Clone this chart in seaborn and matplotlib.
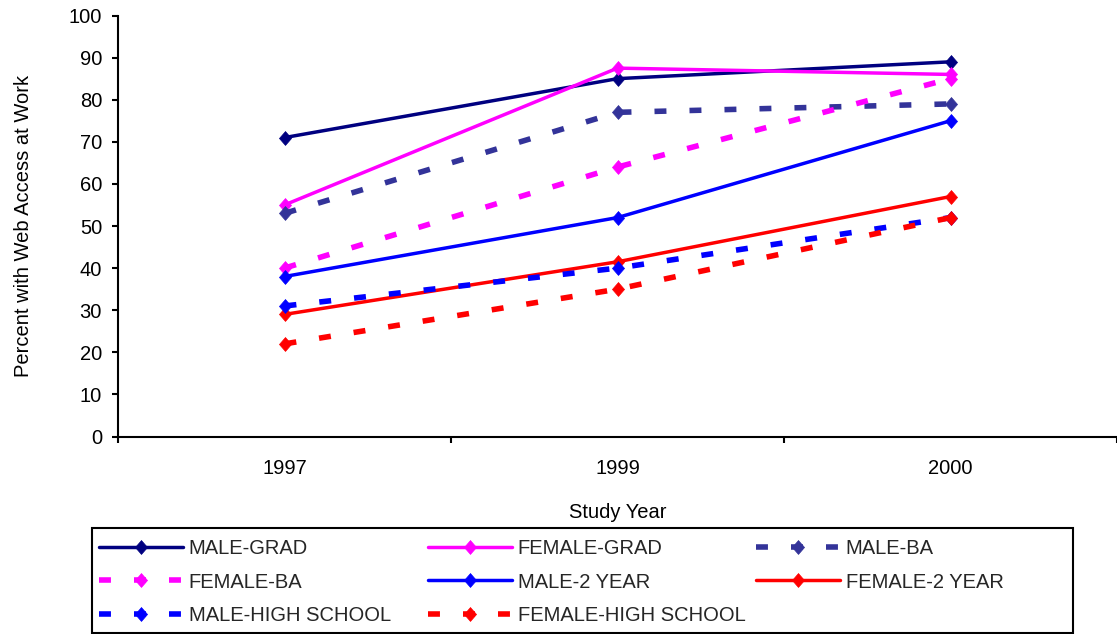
import matplotlib
matplotlib.use("Agg")
import matplotlib.pyplot as plt
from matplotlib.patches import Rectangle
from matplotlib.ticker import FixedLocator
import seaborn as sns
import numpy as np

# ---- data -------------------------------------------------------------
years = ["1997", "1999", "2000"]

series_names = [
    "MALE-GRAD", "FEMALE-GRAD", "MALE-BA", "FEMALE-BA",
    "MALE-2 YEAR", "FEMALE-2 YEAR", "MALE-HIGH SCHOOL", "FEMALE-HIGH SCHOOL",
]

male_grad = [71, 85, 89]
female_grad = [55, 87.5, 86]
male_ba = [53, 77, 79]
female_ba = [40, 64, 85]
male_2yr = [38, 52, 75]
female_2yr = [29, 41.5, 57]
male_hs = [31, 40, 52]
female_hs = [22, 35, 52]

series_values = [male_grad, female_grad, male_ba, female_ba,
                 male_2yr, female_2yr, male_hs, female_hs]

series_colors = ["#000080", "#FF00FF", "#333399", "#FF00FF",
                 "#0000FF", "#FF0000", "#0000FF", "#FF0000"]
series_dashed = [False, False, True, True, False, False, True, True]

y_ticks = [0, 10, 20, 30, 40, 50, 60, 70, 80, 90, 100]

# ---- style ------------------------------------------------------------
sns.set_theme(style="white")
plt.rcParams["font.family"] = ["Liberation Sans", "DejaVu Sans"]
FS = 14.5

W, H = 1117, 634
fig = plt.figure(figsize=(W / 100, H / 100), dpi=100)
fig.patch.set_facecolor("white")

left, right = 118 / W, 1.0
bottom, top = 1 - 436.5 / H, 1 - 15.5 / H
ax = fig.add_axes([left, bottom, right - left, top - bottom])
ax.set_facecolor("white")

# slightly tall diamond marker
diamond = [(0, 1.15), (1, 0), (0, -1.15), (-1, 0), (0, 1.15)]

x_pos = np.arange(len(years))
for name, vals, col, dashed in zip(series_names, series_values,
                                   series_colors, series_dashed):
    if dashed:
        ls = (0, (2.15, 4.15))
        lw = 4.0
    else:
        ls = "-"
        lw = 2.5
    sns.lineplot(x=x_pos, y=vals, ax=ax, color=col, linewidth=lw,
                 linestyle=ls, marker=diamond, markersize=10,
                 markeredgecolor=col, markerfacecolor=col,
                 markeredgewidth=0.5, label=name, legend=False,
                 errorbar=None, estimator=None)

# ---- axes -------------------------------------------------------------
ax.set_xlim(-0.5, len(years) - 0.5)
ax.set_ylim(0, 100)
ax.set_yticks(y_ticks)
ax.set_yticklabels([str(t) for t in y_ticks], fontsize=FS, color="black")
ax.set_xticks(x_pos)
ax.set_xticklabels(years, fontsize=FS, color="black")
ax.xaxis.set_minor_locator(FixedLocator(np.arange(-0.5, len(years), 1.0)))

ax.tick_params(axis="x", which="major", length=0, pad=16.5)
ax.tick_params(axis="x", which="minor", length=4.5, width=1.5,
               direction="out", color="black", bottom=True)
ax.tick_params(axis="y", which="major", length=4.5, width=1.5,
               direction="out", color="black", pad=7, left=True)

for side in ["top", "right"]:
    ax.spines[side].set_visible(False)
for side in ["left", "bottom"]:
    ax.spines[side].set_color("black")
    ax.spines[side].set_linewidth(1.5)
ax.grid(False)

ax.set_xlabel("Study Year", fontsize=FS, color="black", labelpad=17.5)
ax.set_ylabel("Percent with Web Access at Work", fontsize=FS,
              color="black", labelpad=26)

# ---- legend (three columns, row-major order) ---------------------------
handles = ax.get_lines()
columns = [[0, 3, 6], [1, 4, 7], [2, 5]]
col_x = [99, 428, 756]
for idxs, cx in zip(columns, col_x):
    fig.legend(handles=[handles[i] for i in idxs],
               labels=[series_names[i] for i in idxs],
               loc="upper left", bbox_to_anchor=(cx / W, 1 - 539 / H),
               frameon=False, fontsize=FS, handlelength=4.15,
               handletextpad=0.3, borderpad=0, borderaxespad=0,
               labelspacing=0.72, numpoints=1)

fig.patches.append(Rectangle((91.5 / W, 1.5 / H), 981 / W, 105 / H,
                             transform=fig.transFigure, fill=False,
                             edgecolor="black", linewidth=1.5))

fig.savefig("out.png", dpi=100, facecolor="white")
